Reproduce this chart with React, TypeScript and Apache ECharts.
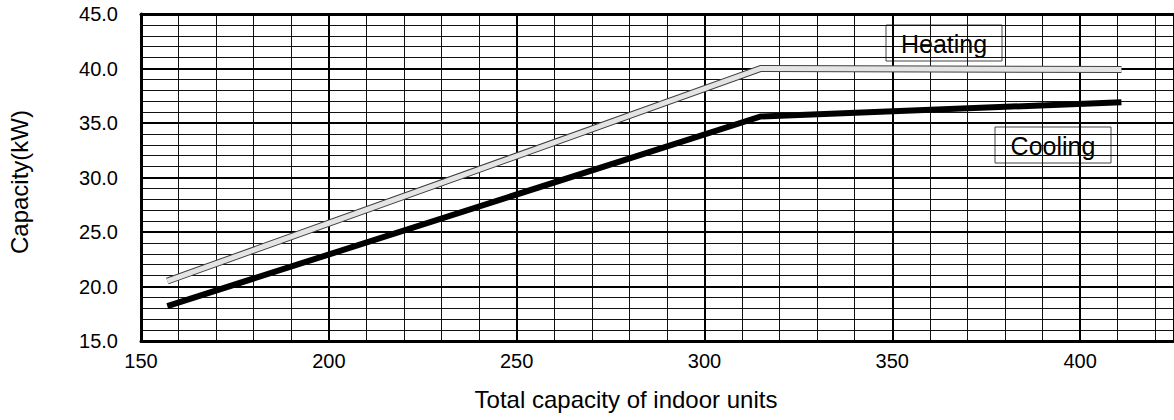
import React, { useEffect, useRef } from "react";
import * as echarts from "echarts";

const xValues = [157, 315, 411];
const heating = [20.5, 40.0, 39.9];
const cooling = [18.2, 35.6, 36.9];
const xTickLabels = [150, 200, 250, 300, 350, 400];
const yTickLabels = [15, 20, 25, 30, 35, 40, 45];
const xTitle = "Total capacity of indoor units";
const yTitle = "Capacity(kW)";
const heatingLabel = "Heating";
const coolingLabel = "Cooling";

const FONT = "'Liberation Sans', Arial, Helvetica, sans-serif";

export default function App() {
  const ref = useRef<HTMLDivElement>(null);
  useEffect(() => {
    if (!ref.current) return;
    const chart = echarts.init(ref.current, null, { renderer: "svg" });
    const heatData = xValues.map((x, i) => [x, heating[i]]);
    const coolData = xValues.map((x, i) => [x, cooling[i]]);
    const box = (x: number, y: number, label: string) => ({
      type: "group",
      x,
      y,
      z: 10,
      children: [
        {
          type: "rect",
          shape: { x: 0, y: 0, width: 116, height: 36 },
          style: { fill: "#fff", stroke: "#444", lineWidth: 1 },
        },
        {
          type: "text",
          x: 58,
          y: 19,
          style: {
            text: label,
            fontSize: 25,
            fontFamily: FONT,
            fill: "#000",
            align: "center",
            verticalAlign: "middle",
          },
        },
      ],
    });
    chart.setOption({
      animation: false,
      backgroundColor: "#fff",
      textStyle: { fontFamily: FONT },
      grid: { left: 141, top: 14, bottom: 79, right: 0, containLabel: false },
      xAxis: [
        {
          type: "value",
          min: 150,
          max: 425,
          interval: 50,
          position: "bottom",
          z: 1,
          axisLine: { show: true, lineStyle: { color: "#000", width: 3 } },
          axisTick: { show: false },
          axisLabel: {
            fontSize: 20,
            color: "#000",
            margin: 10,
            fontFamily: FONT,
            showMaxLabel: false,
            formatter: (v: number) => (xTickLabels.includes(v) ? String(v) : ""),
          },
          splitLine: { show: true, lineStyle: { color: "#000", width: 2 } },
        },
        {
          type: "value",
          min: 150,
          max: 425,
          interval: 10,
          position: "top",
          z: 0,
          axisLine: { show: true, lineStyle: { color: "#000", width: 3 } },
          axisTick: { show: false },
          axisLabel: { show: false },
          splitLine: { show: true, lineStyle: { color: "#111", width: 1 } },
        },
      ],
      yAxis: [
        {
          type: "value",
          min: 15,
          max: 45,
          interval: 5,
          position: "left",
          z: 1,
          axisLine: { show: true, lineStyle: { color: "#000", width: 3 } },
          axisTick: { show: false },
          axisLabel: {
            fontSize: 20,
            color: "#000",
            margin: 23,
            fontFamily: FONT,
            formatter: (v: number) => (yTickLabels.includes(v) ? v.toFixed(1) : ""),
          },
          splitLine: { show: true, lineStyle: { color: "#000", width: 2 } },
        },
        {
          type: "value",
          min: 15,
          max: 45,
          interval: 1,
          position: "right",
          z: 0,
          axisLine: { show: false },
          axisTick: { show: false },
          axisLabel: { show: false },
          splitLine: { show: true, lineStyle: { color: "#111", width: 1 } },
        },
      ],
      series: [
        {
          type: "line",
          name: "HeatingOutline",
          data: heatData,
          xAxisIndex: 0,
          yAxisIndex: 0,
          symbol: "none",
          z: 3,
          lineStyle: { color: "#404040", width: 7, cap: "butt", join: "miter" },
        },
        {
          type: "line",
          name: heatingLabel,
          data: heatData,
          xAxisIndex: 0,
          yAxisIndex: 0,
          symbol: "none",
          z: 4,
          lineStyle: { color: "#e4e4e4", width: 5, cap: "butt", join: "miter" },
        },
        {
          type: "line",
          name: coolingLabel,
          data: coolData,
          xAxisIndex: 0,
          yAxisIndex: 0,
          symbol: "none",
          z: 5,
          lineStyle: { color: "#000", width: 6, cap: "butt", join: "miter" },
        },
      ],
      graphic: [
        box(886, 25, heatingLabel),
        box(995, 127, coolingLabel),
        {
          type: "text",
          x: 626,
          y: 399,
          style: {
            text: xTitle,
            fontSize: 24,
            fontFamily: FONT,
            fill: "#000",
            align: "center",
            verticalAlign: "middle",
          },
        },
        {
          type: "text",
          x: 19,
          y: 182,
          rotation: Math.PI / 2,
          style: {
            text: yTitle,
            fontSize: 24,
            fontFamily: FONT,
            fill: "#000",
            align: "center",
            verticalAlign: "middle",
          },
        },
      ],
    });
    return () => chart.dispose();
  }, []);
  return <div ref={ref} style={{ width: 1174, height: 420, position: "fixed", left: 0, top: 0 }} />;
}
